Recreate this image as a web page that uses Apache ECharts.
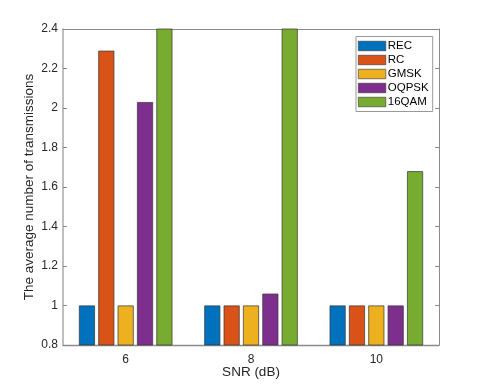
<!DOCTYPE html>
<html><head><meta charset="utf-8">
<script src="https://cdn.jsdelivr.net/npm/echarts@6/dist/echarts.min.js"></script>
<style>html,body{margin:0;padding:0;background:#fff}#c{width:485px;height:388px}</style>
</head><body><div id="c"></div>
<script>
const categories = ['6', '8', '10'];
const seriesNames = ['REC', 'RC', 'GMSK', 'OQPSK', '16QAM'];
const REC = [1, 1, 1];
const RC = [2.29, 1, 1];
const GMSK = [1, 1, 1];
const OQPSK = [2.03, 1.06, 1];
const QAM16 = [2.6, 2.6, 1.68];
const yTicks = ['0.8', '1', '1.2', '1.4', '1.6', '1.8', '2', '2.2', '2.4'];
const colors = ['#0072BD', '#D95319', '#EDB120', '#7E2F8E', '#77AC30'];
const allValues = [REC, RC, GMSK, OQPSK, QAM16];

const font = 'Liberation Sans, Arial, Helvetica, sans-serif';
const axisColor = '#8a8a8a';
const chart = echarts.init(document.getElementById('c'));
chart.setOption({
  animation: false,
  textStyle: { fontFamily: font },
  grid: { left: 63, top: 29, right: 46, bottom: 43, containLabel: false },
  legend: {
    orient: 'vertical', left: 356, top: 36.5,
    itemWidth: 27.5, itemHeight: 9.5, itemGap: 0,
    padding: [2.5, 4, 2.5, 2],
    borderColor: '#999', borderWidth: 1, backgroundColor: '#fff',
    icon: 'rect',
    itemStyle: { borderWidth: 0.6, borderColor: '#333' },
    textStyle: { fontFamily: font, fontSize: 11.5, lineHeight: 14, color: '#000', padding: [0, 0, 0, -3] },
    data: seriesNames
  },
  xAxis: [{
    type: 'category', data: categories, position: 'bottom',
    name: 'SNR (dB)', nameLocation: 'middle', nameGap: 20, nameMoveOverlap: false,
    nameTextStyle: { fontFamily: font, fontSize: 13.5, color: '#262626' },
    axisLine: { lineStyle: { color: axisColor, width: 1.3 } },
    axisTick: { inside: true, alignWithLabel: true, length: 4, lineStyle: { color: axisColor } },
    axisLabel: { fontFamily: font, fontSize: 12, color: '#262626', margin: 9 }
  }, {
    type: 'category', data: categories, position: 'top',
    axisLine: { lineStyle: { color: axisColor, width: 1 } },
    axisTick: { inside: true, alignWithLabel: true, length: 4, lineStyle: { color: axisColor } },
    axisLabel: { show: false }
  }],
  yAxis: [{
    type: 'value', min: 0.8, max: 2.4, interval: 0.2,
    name: 'The average number of transmissions', nameLocation: 'middle', nameGap: 27, nameMoveOverlap: false,
    nameTextStyle: { fontFamily: font, fontSize: 13.5, color: '#262626' },
    axisLine: { show: true, lineStyle: { color: '#aaa', width: 1.5 } },
    axisTick: { show: true, inside: true, length: 4, lineStyle: { color: axisColor } },
    splitLine: { show: false },
    axisLabel: { fontFamily: font, fontSize: 12, color: '#262626', margin: 5,
      formatter: v => yTicks[Math.round((v - 0.8) / 0.2)] }
  }, {
    type: 'value', min: 0.8, max: 2.4, interval: 0.2, position: 'right',
    axisLine: { show: true, lineStyle: { color: axisColor, width: 1 } },
    axisTick: { show: true, inside: true, length: 4, lineStyle: { color: axisColor } },
    splitLine: { show: false },
    axisLabel: { show: false }
  }],
  series: seriesNames.map((n, i) => ({
    name: n, type: 'bar', data: allValues[i], clip: true,
    barWidth: 16, barGap: '21%',
    itemStyle: { color: colors[i], borderColor: '#333', borderWidth: 0.7 }
  }))
});
</script></body></html>
